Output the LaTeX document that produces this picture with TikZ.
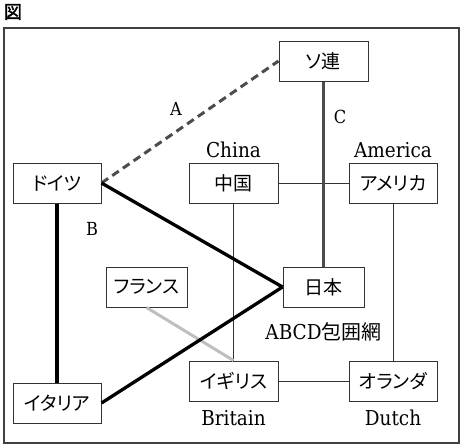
\documentclass[tikz,border=0pt]{standalone}
\usepackage{fontspec}
\setmainfont{DejaVu Serif Condensed}
\newfontfamily\jp[RawFeature=+palt]{Noto Sans CJK JP}
\newfontfamily\jpbold[FakeBold=2]{Noto Sans CJK JP}
\begin{document}
\begin{tikzpicture}[x=1pt,y=-1pt,
  box/.style={draw=black!80,line width=1pt,fill=white,minimum height=40pt,inner sep=0pt,font=\jp\fontsize{19}{19}\selectfont},
  lab/.style={anchor=base,inner sep=0pt,font=\fontsize{20.5}{20.5}\selectfont},
  letter/.style={anchor=base,inner sep=0pt,font=\fontsize{18}{18}\selectfont},
  thinline/.style={draw=black!80,line width=0.9pt},
  heavy/.style={draw=black,line width=3.3pt},
  Cline/.style={draw=black!70,line width=3pt},
  Aline/.style={draw=black!70,line width=3pt,dash pattern=on 8pt off 5pt},
  Fline/.style={draw=black!25,line width=3pt}]
\useasboundingbox (0,0) rectangle (462,445);
\fill[white] (0,0) rectangle (462,445);
\node[inner sep=0pt,font=\jpbold\fontsize{18}{18}\selectfont] (fig) at (13,12) {図};
\draw[draw=black!75,line width=1.4pt] (4,28) rectangle (459,443);
\node[box,minimum width=89pt] (soren) at (323.5,61) {ソ連};
\node[box,minimum width=88pt] (germany) at (57,183) {ドイツ};
\node[box,minimum width=89pt] (china) at (233.5,183) {中国};
\node[box,minimum width=88pt] (america) at (393,183) {アメリカ};
\node[box,minimum width=81pt] (japan) at (323.5,287) {日本};
\node[box,minimum width=81pt] (france) at (146.5,287) {フランス};
\node[box,minimum width=89pt] (britain) at (233.5,381) {イギリス};
\node[box,minimum width=88pt] (dutch) at (393,381) {オランダ};
\node[box,minimum width=88pt] (italy) at (57,403) {イタリア};
% thin links
\draw[thinline] (china.east) -- (america.west);
\draw[thinline] (china.south) -- (britain.north);
\draw[thinline] (america.south) -- (dutch.north);
\draw[thinline] (britain.east) -- (dutch.west);
% heavy links
\draw[Aline] (germany.east) -- (soren.west);
\draw[Cline] (soren.south) -- (japan.north);
\draw[Fline] (france.south) -- (britain.north);
\draw[heavy] (germany.east) -- (japan.west);
\draw[heavy] (italy.east) -- (japan.west);
\draw[heavy] (germany.south) -- (italy.north);
% labels
\node[letter] (lA) at (176,115) {A};
\node[letter] (lC) at (340,123) {C};
\node[letter] (lB) at (92,235) {B};
\node[lab] (lchina) at (233.5,157) {China};
\node[lab] (lamerica) at (393,157) {America};
\node[lab] (labcd) at (323.5,339) {ABCD{\jp\fontsize{20}{20}\selectfont 包囲網}};
\node[lab] (lbritain) at (233.5,425) {Britain};
\node[lab] (ldutch) at (393,425) {Dutch};
\end{tikzpicture}
\end{document}
